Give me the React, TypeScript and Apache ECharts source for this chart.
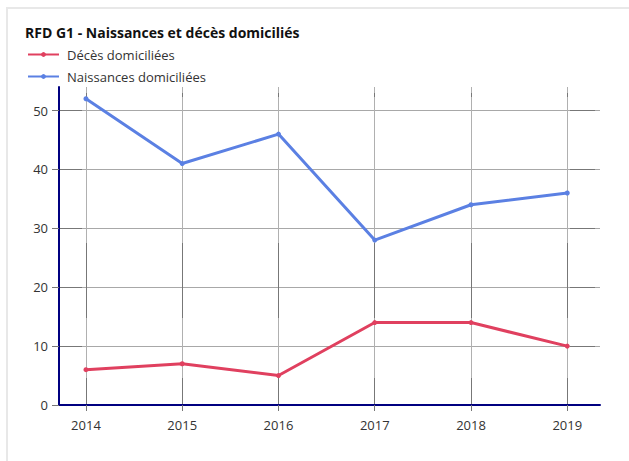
import React, { useEffect, useRef } from "react";
import * as echarts from "echarts";

const years = [2014, 2015, 2016, 2017, 2018, 2019];
const deces = [6, 7, 5, 14, 14, 10];
const naissances = [52, 41, 46, 28, 34, 36];
const yTicks = [0, 10, 20, 30, 40, 50];

const FONT = "'Open Sans', 'Noto Sans', sans-serif";

export default function App() {
  const ref = useRef<HTMLDivElement>(null);
  useEffect(() => {
    document.body.style.overflow = "hidden";
    const chart = echarts.init(ref.current!, undefined, { renderer: "svg" });
    const pairs = (vals: number[]) => years.map((y, i) => [y, vals[i]]);
    chart.setOption({
      animation: false,
      textStyle: { fontFamily: FONT },
      title: {
        text: "RFD G1 - Naissances et décès domiciliés",
        left: 14,
        top: 13,
        textStyle: { fontSize: 14, fontWeight: "bold", color: "#111", fontFamily: FONT },
      },
      legend: {
        orient: "vertical",
        left: 16,
        top: 36,
        itemWidth: 31,
        itemHeight: 6,
        itemGap: 9,
        textStyle: { fontSize: 13, color: "#333", fontFamily: FONT, padding: [0, 0, 0, 3] },
        data: ["Décès domiciliées", "Naissances domiciliées"],
      },
      grid: { left: 53, right: 29, top: 80, bottom: 56, containLabel: false },
      xAxis: [
        {
          type: "value",
          min: 2013.72,
          max: 2019.34,
          axisLine: { show: true, lineStyle: { color: "#000080", width: 2 } },
          axisTick: {
            show: true,
            length: 6,
            customValues: years,
            lineStyle: { color: "#777" },
          },
          axisLabel: {
            customValues: years,
            color: "#333",
            fontSize: 13,
            margin: 13,
            formatter: (v: number) => String(v),
            fontFamily: FONT,
          },
          splitLine: { show: true, lineStyle: { color: "#b0b0b0", width: 1 } },
        },
        {
          type: "value",
          position: "top",
          min: 2013.72,
          max: 2019.34,
          axisLine: { show: false },
          axisTick: { show: false, customValues: years },
          axisLabel: { show: false, customValues: years },
          splitLine: {
            show: true,
            lineStyle: { color: "#777", width: 1, type: [0, 6, 4, 146, 75, 60, 27, 100] },
          },
        },
      ],
      yAxis: [
        {
          type: "value",
          min: 0,
          max: 54,
          axisLine: { show: true, lineStyle: { color: "#000080", width: 2 } },
          axisTick: { show: true, length: 7, customValues: yTicks, lineStyle: { color: "#777" } },
          axisLabel: { customValues: yTicks, color: "#333", fontSize: 13, margin: 11, fontFamily: FONT },
          splitLine: { show: true, lineStyle: { color: "#a8a8a8", width: 1 } },
        },
        {
          type: "value",
          position: "right",
          min: 0,
          max: 54,
          axisLine: { show: false },
          axisTick: { show: false, customValues: yTicks },
          axisLabel: { show: false, customValues: yTicks },
          splitLine: {
            show: true,
            lineStyle: { color: "#777", width: 1, type: [23, 488, 25, 100] },
          },
        },
      ],
      series: [
        {
          name: "Décès domiciliées",
          type: "line",
          data: pairs(deces),
          symbol: "circle",
          symbolSize: 5,
          lineStyle: { color: "#e0405f", width: 3 },
          itemStyle: { color: "#e0405f" },
        },
        {
          name: "Naissances domiciliées",
          type: "line",
          data: pairs(naissances),
          symbol: "circle",
          symbolSize: 5,
          lineStyle: { color: "#5b80e3", width: 3 },
          itemStyle: { color: "#5b80e3" },
        },
      ],
    });
    return () => chart.dispose();
  }, []);
  return (
    <div style={{ position: "fixed", left: 0, top: 0, width: 629, height: 461, overflow: "hidden", background: "#fff" }}>
      <div
        style={{
          position: "absolute",
          left: 6,
          top: 7,
          width: 700,
          height: 600,
          border: "2px solid #e8e8e8",
          boxSizing: "border-box",
        }}
      />
      <div ref={ref} style={{ position: "absolute", left: 6, top: 7, width: 623, height: 454 }} />
    </div>
  );
}
